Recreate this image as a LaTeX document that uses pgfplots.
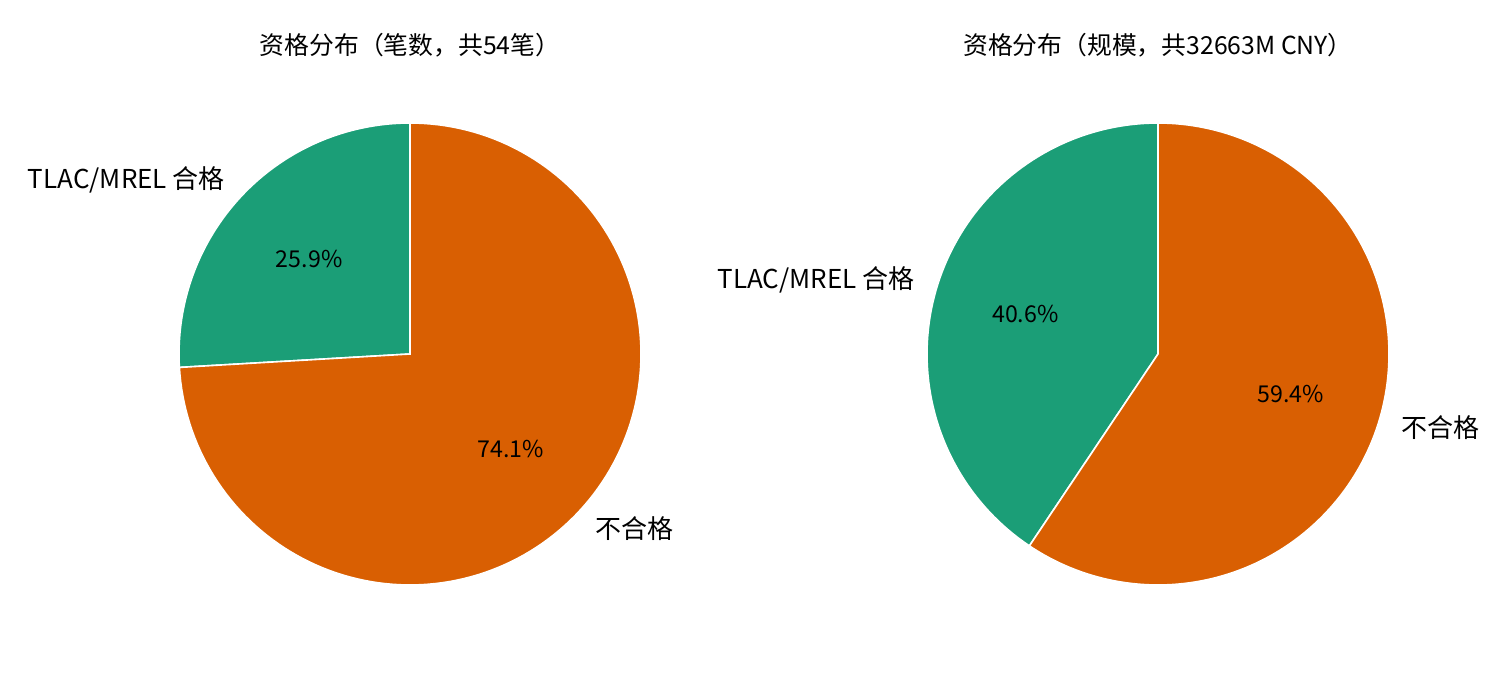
\documentclass[border=0pt]{standalone}
\usepackage{fontspec}
\setmainfont{Noto Sans CJK SC}
\usepackage{pgfplots}
\pgfplotsset{compat=1.18}
\definecolor{cgreen}{HTML}{1B9E77}
\definecolor{corange}{HTML}{D95F02}
% data: left = count of deals, right = size (bn CNY)
\def\Lyes{14}\def\Lno{40}
\def\Ryes{13.262}\def\Rno{19.401}
\pgfplotsset{
  pie/.style={
    hide axis, clip=false, scale only axis,
    x=115.5pt, y=115.5pt,
    xmin=-1.2, xmax=1.2, ymin=-1.2, ymax=1.2,
    anchor=center,
  },
}
\newcommand{\pie}[3]{%
  \pgfmathsetmacro{\tot}{#1+#2}%
  \pgfmathsetmacro{\pa}{100*#1/\tot}%
  \pgfmathsetmacro{\pb}{100*#2/\tot}%
  \pgfmathsetmacro{\ea}{90+3.6*\pa}%
  \pgfmathsetmacro{\ma}{90+1.8*\pa}%
  \pgfmathsetmacro{\mb}{\ea+1.8*\pb}%
  \addplot[fill=cgreen, draw=white, line width=0.8pt, domain=90:\ea, samples=90, variable=\t]
    ({cos(t)},{sin(t)}) -- (axis cs:0,0) -- cycle;
  \addplot[fill=corange, draw=white, line width=0.8pt, domain=\ea:450, samples=150, variable=\t]
    ({cos(t)},{sin(t)}) -- (axis cs:0,0) -- cycle;
  \node[font=\fontsize{11.6}{14}\selectfont] at (axis cs:{0.6*cos(\ma)},{0.6*sin(\ma)}) {\pgfmathprintnumber[fixed,precision=1,fixed zerofill,assume math mode=true]{\pa}\%};
  \node[font=\fontsize{11.6}{14}\selectfont] at (axis cs:{0.6*cos(\mb)},{0.6*sin(\mb)}) {\pgfmathprintnumber[fixed,precision=1,fixed zerofill,assume math mode=true]{\pb}\%};
  \node[font=\fontsize{13}{15}\selectfont, anchor=east, inner sep=0pt] at (axis cs:{1.1*cos(\ma)},{1.1*sin(\ma)}) {TLAC/MREL 合格};
  \node[font=\fontsize{13}{15}\selectfont, anchor=west, inner sep=0pt] at (axis cs:{1.1*cos(\mb)},{1.1*sin(\mb)}) {不合格};
  \node[font=\fontsize{12.4}{15}\selectfont] at (axis cs:0,1.338) {#3};
}
\begin{document}
\begin{tikzpicture}
\useasboundingbox (0,0) rectangle (750pt,337.5pt);
\begin{axis}[pie, at={(205pt,160.5pt)}]
\pie{\Lyes}{\Lno}{资格分布（笔数，共54笔）}
\end{axis}
\begin{axis}[pie, at={(579pt,160.5pt)}]
\pie{\Ryes}{\Rno}{资格分布（规模，共32663M CNY）}
\end{axis}
\end{tikzpicture}
\end{document}
